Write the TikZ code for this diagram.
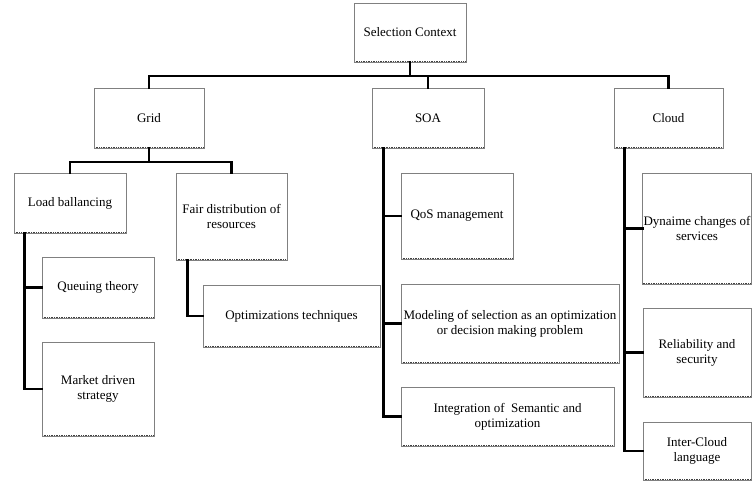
\documentclass[tikz,border=0pt]{standalone}
\usepackage{fontspec}
\setmainfont{Liberation Serif}
\usetikzlibrary{positioning}

\begin{document}
\begin{tikzpicture}[x=1pt,y=-1pt]
      \tikzset{box/.style={draw=black!50, line width=0.6pt, rectangle, align=center,
          font=\fontsize{13}{15}\selectfont, inner sep=1pt,
          path picture={\draw[black!75, line width=1.6pt, dash pattern=on 1pt off 0.7pt]
            (path picture bounding box.south west) -- (path picture bounding box.south east);}}}
      \tikzset{link/.style={line width=2.6pt, line join=miter, line cap=rect}}
      \useasboundingbox (0,0) rectangle (752,484);

      \node[box, minimum width=112pt, minimum height=59pt] (Sel) at (410,32.5) {Selection Context};
      \node[box, minimum width=110pt, minimum height=60pt] (Grid) at (149,118) {Grid};
      \node[box, minimum width=112pt, minimum height=60pt] (SOA) at (428,118) {SOA};
      \node[box, minimum width=109pt, minimum height=60pt] (Cloud) at (668.5,118) {Cloud};

      \node[box, minimum width=112pt, minimum height=60pt] (Load) at (70,203) {Load ballancing};
      \node[box, minimum width=111pt, minimum height=87pt] (Fair) at (231.5,216.5) {Fair distribution of\\resources};
      \node[box, minimum width=112pt, minimum height=61pt] (Queue) at (98,287.5) {Queuing theory};
      \node[box, minimum width=112pt, minimum height=94pt] (Market) at (98,389) {Market driven\\strategy};
      \node[box, minimum width=177pt, minimum height=62pt] (Optim) at (291.5,316) {Optimizations techniques};

      \node[box, minimum width=112pt, minimum height=86pt] (QoS) at (457,216) {QoS management};
      \node[box, minimum width=218pt, minimum height=79pt] (Model) at (510,323.5) {Modeling of selection as an optimization\\or decision making problem};
      \node[box, minimum width=213pt, minimum height=59pt] (Integ) at (507.5,416.5) {Integration of \ Semantic and\\optimization};

      \node[box, minimum width=108pt, minimum height=111pt] (Dyn) at (697,228.5) {Dynaime changes of\\services};
      \node[box, minimum width=108pt, minimum height=89pt] (Rel) at (697,352.5) {Reliability and\\security};
      \node[box, minimum width=108pt, minimum height=58pt] (Inter) at (697,451) {Inter-Cloud\\language};

      \coordinate (Bus) at (0,76);
      \coordinate (GridBus) at (0,162);
      \draw[link] (Sel.south) -- (Sel.south |- Bus);
      \draw[link] (Grid.north) -- (Grid.north |- Bus) -- (Cloud.north |- Bus) -- (Cloud.north);
      \draw[link] (SOA.north) -- (SOA.north |- Bus);

      \draw[link] (Load.north) -- (Load.north |- GridBus) -- (Fair.north |- GridBus) -- (Fair.north);
      \draw[link] (Grid.south) -- (Grid.south |- GridBus);

      \draw[link] ([xshift=11pt]Load.south west) |- (Queue.west);
      \draw[link] ([xshift=11pt]Load.south west) |- (Market.west);
      \draw[link] ([xshift=12pt]Fair.south west) |- (Optim.west);

      \draw[link] ([xshift=12pt]SOA.south west) |- (QoS.west);
      \draw[link] ([xshift=12pt]SOA.south west) |- (Model.west);
      \draw[link] ([xshift=12pt]SOA.south west) |- (Integ.west);

      \draw[link] ([xshift=11pt]Cloud.south west) |- (Dyn.west);
      \draw[link] ([xshift=11pt]Cloud.south west) |- (Rel.west);
      \draw[link] ([xshift=11pt]Cloud.south west) |- (Inter.west);
    \end{tikzpicture}
\end{document}
